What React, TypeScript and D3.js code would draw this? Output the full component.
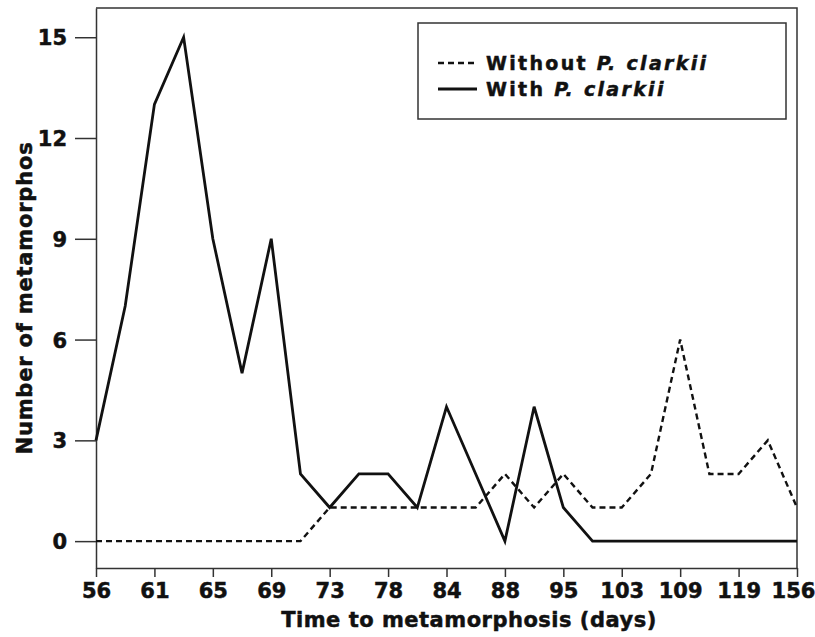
import * as d3 from 'd3';
import { useEffect, useRef } from 'react';

// x tick labels (every second point sits on a tick)
const tickLabels = ['56', '61', '65', '69', '73', '78', '84', '88', '95', '103', '109', '119', '156'];

// Number of metamorphs per sampling point (25 points, half-tick spacing)
const withoutClarkii = [0, 0, 0, 0, 0, 0, 0, 0, 1, 1, 1, 1, 1, 1, 2, 1, 2, 1, 1, 2, 6, 2, 2, 3, 1];
const withClarkii = [3, 7, 13, 15, 9, 5, 9, 2, 1, 2, 2, 1, 4, 2, 0, 4, 1, 0, 0, 0, 0, 0, 0, 0, 0];

const yTicks = [0, 3, 6, 9, 12, 15];

const FONT = '"DejaVu Sans", sans-serif';

const App = () => {
  const ref = useRef<SVGSVGElement>(null);

  useEffect(() => {
    document.body.style.margin = '0';
    const svg = d3.select(ref.current);
    svg.selectAll('*').remove();

    const width = 815, height = 637;
    const left = 96, right = 797, top = 8, bottom = 568;

    svg.attr('width', width).attr('height', height).style('background', '#fff');

    const x = d3.scaleLinear().domain([0, withClarkii.length - 1]).range([left, right]);
    const y = d3.scaleLinear().domain([-0.8, 15.87]).range([bottom, top]);

    // heavy text helper
    const heavy = (sel: any, size: number) =>
      sel.style('font-family', FONT)
        .style('font-weight', 'bold')
        .style('font-size', `${size}px`)
        .attr('fill', '#111')
        .attr('stroke', '#111')
        .attr('stroke-width', 0.5);

    // frame (top + right)
    svg.append('path')
      .attr('d', `M${left},${top}H${right}V${bottom}`)
      .attr('fill', 'none')
      .attr('stroke', '#333')
      .attr('stroke-width', 1.5);

    // x axis
    const xAxis = svg.append('g')
      .attr('transform', `translate(0,${bottom})`)
      .call(
        d3.axisBottom(x)
          .tickValues(tickLabels.map((_, i) => i * 2))
          .tickFormat((_, i) => tickLabels[i])
          .tickSizeInner(9)
          .tickSizeOuter(0)
          .tickPadding(4)
      );

    // y axis
    const yAxis = svg.append('g')
      .attr('transform', `translate(${left},0)`)
      .call(
        d3.axisLeft(y)
          .tickValues(yTicks)
          .tickSizeInner(21)
          .tickSizeOuter(0)
          .tickPadding(8)
      );

    [xAxis, yAxis].forEach(g => {
      g.select('.domain').attr('stroke', '#333').attr('stroke-width', 1.5);
      g.selectAll('.tick line').attr('stroke', '#333').attr('stroke-width', 1.5);
      heavy(g.selectAll('.tick text'), 21);
    });
    yAxis.selectAll('.tick text').attr('dy', '0.36em');
    xAxis.selectAll('.tick text').attr('dy', '0.8em');
    xAxis.selectAll('.tick:last-of-type text').attr('dx', -4);

    const line = d3.line<number>()
      .x((_, i) => x(i))
      .y(d => y(d));

    svg.append('path')
      .datum(withoutClarkii)
      .attr('d', line)
      .attr('fill', 'none')
      .attr('stroke', '#111')
      .attr('stroke-width', 2.4)
      .attr('stroke-dasharray', '6,4');

    svg.append('path')
      .datum(withClarkii)
      .attr('d', line)
      .attr('fill', 'none')
      .attr('stroke', '#111')
      .attr('stroke-width', 2.8)
      .attr('stroke-linejoin', 'miter');

    // axis titles
    heavy(svg.append('text'), 21)
      .attr('x', 469)
      .attr('y', 627)
      .attr('text-anchor', 'middle')
      .style('letter-spacing', '0.5px')
      .text('Time to metamorphosis (days)');

    heavy(svg.append('text'), 21)
      .attr('transform', 'translate(32,298) rotate(-90)')
      .attr('text-anchor', 'middle')
      .style('letter-spacing', '0.8px')
      .text('Number of metamorphos');

    // legend
    const legend = svg.append('g');
    legend.append('rect')
      .attr('x', 418).attr('y', 23)
      .attr('width', 368).attr('height', 96)
      .attr('fill', '#fff')
      .attr('stroke', '#333')
      .attr('stroke-width', 1.5);

    const items = [
      { label: 'Without ', dash: '6,4', sw: 2.4, yy: 70 },
      { label: 'With ', dash: null, sw: 2.8, yy: 96 },
    ];
    items.forEach(it => {
      legend.append('line')
        .attr('x1', 438).attr('x2', 477)
        .attr('y1', it.yy - 7).attr('y2', it.yy - 7)
        .attr('stroke', '#111')
        .attr('stroke-width', it.sw)
        .attr('stroke-dasharray', it.dash);
      const t = heavy(legend.append('text'), 19)
        .attr('x', 486).attr('y', it.yy)
        .style('letter-spacing', '2.3px');
      t.append('tspan').text(it.label);
      t.append('tspan').style('font-style', 'italic').text('P. clarkii');
    });
  }, []);

  return <svg ref={ref}></svg>;
};

export default App;
